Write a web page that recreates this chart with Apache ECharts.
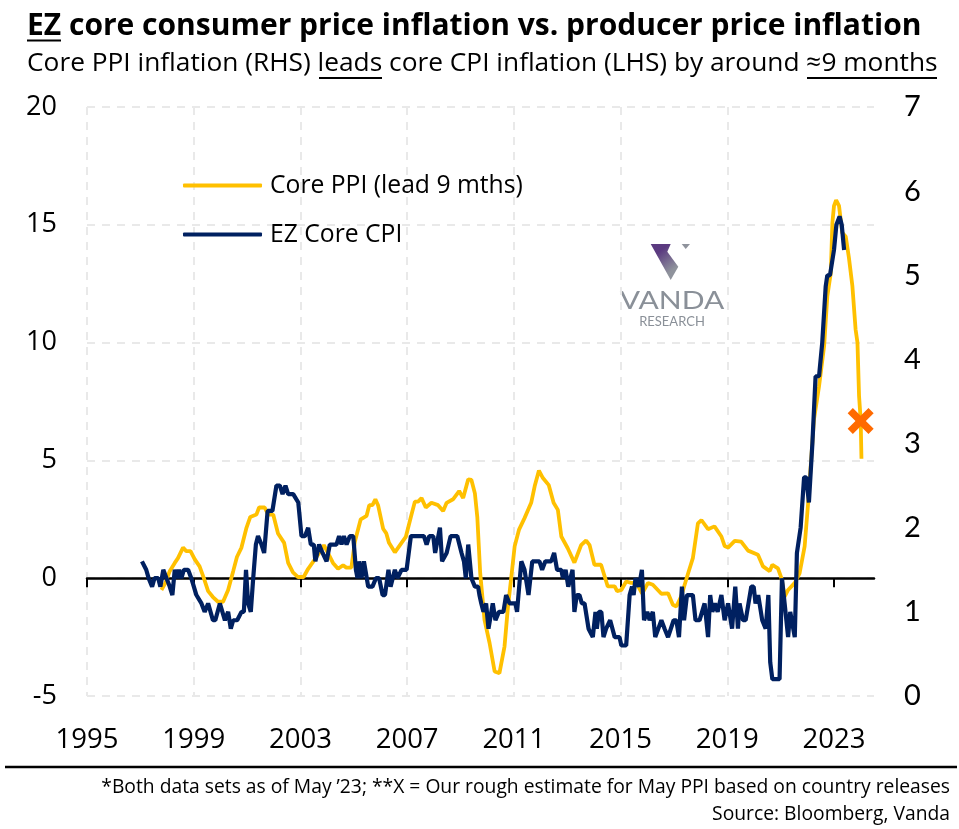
<!DOCTYPE html>
<html>
<head>
<meta charset="utf-8">
<style>html,body{margin:0;background:#fff}#main{width:959px;height:829px}</style>
<script src="https://cdn.jsdelivr.net/npm/echarts@6/dist/echarts.min.js"></script>
</head>
<body>
<div id="main"></div>
<script>
// x = decimal year
const xTicks = [1995, 1999, 2003, 2007, 2011, 2015, 2019, 2023]

const ppiYears = [1997.79,1997.85,1997.94,1998.1,1998.29,1998.41,1998.6,1998.72,1998.88,1999.04,1999.22,1999.38,1999.54,1999.72,1999.91,
  2000.1,2000.29,2000.48,2000.62,2000.79,2000.98,2001.12,2001.35,2001.45,2001.66,2001.79,2001.98,2002.16,2002.39,2002.54,2002.72,2002.91,
  2003.12,2003.29,2003.48,2003.66,2003.88,2004.04,2004.22,2004.41,2004.6,2004.72,2004.91,2005.04,2005.26,2005.48,2005.58,2005.7,2005.81,2005.91,
  2006.1,2006.22,2006.32,2006.54,2006.79,2006.95,2007.14,2007.29,2007.41,2007.54,2007.7,2007.91,2008.16,2008.35,2008.48,2008.72,2008.95,
  2009.1,2009.29,2009.41,2009.54,2009.63,2009.74,2009.9,2010.09,2010.28,2010.46,2010.65,2010.78,2010.9,2011.03,2011.19,2011.4,2011.65,2011.78,2011.94,
  2012.09,2012.31,2012.49,2012.65,2012.78,2013.02,2013.27,2013.52,2013.71,2013.84,2014.02,2014.27,2014.52,2014.78,2014.87,2015.03,2015.21,2015.4,2015.59,2015.81,
  2016.03,2016.21,2016.53,2016.78,2016.96,2017.09,2017.27,2017.53,2017.71,2017.9,2018.03,2018.28,2018.52,2018.78,2018.9,2019.03,2019.28,2019.52,2019.78,
  2020.15,2020.34,2020.59,2020.69,2020.9,2021.03,2021.15,2021.28,2021.53,2021.71,2021.9,2022.03,2022.25,2022.44,2022.63,2022.75,2022.88,2022.94,
  2023.0,2023.08,2023.19,2023.31,2023.44,2023.56,2023.69,2023.81,2023.88,2023.94,2024.0,2024.03]
const ppiValues = [-0.5,-0.5,-0.2,0.3,0.65,0.85,1.3,1.15,1.15,0.8,0.5,0,-0.55,-0.8,-1,
  -1,-0.5,0.3,0.9,1.3,2.15,2.6,2.7,3,3,2.7,2.7,1.9,1.5,0.65,0.25,0.05,
  0.05,0.4,0.7,1,1.4,1.05,0.65,0.4,0.55,0.45,0.45,1.55,2.5,2.65,3.1,3.1,3.35,3.1,
  2.1,1.9,1.5,1.1,1.5,1.75,2.6,3.25,3.25,3.4,3,3.2,3.1,2.85,3.2,3.35,3.7,
  3.4,4.2,4.17,3.6,2.6,0.2,-1.77,-2.75,-3.96,-4.03,-2.9,-1.2,0,1.35,2.05,2.55,3.2,3.9,4.57,
  4.25,3.95,3.2,2.9,1.77,1.27,0.66,1.4,1.6,1.4,0.57,0.57,-0.35,-0.35,-0.55,-0.5,-0.14,-0.2,-0.2,-0.65,
  -0.2,-0.28,-0.66,-0.64,-1.13,-1.2,-0.78,0.2,0.85,2.33,2.47,2.08,2.2,1.77,1.37,1.3,1.58,1.55,1.17,
  1,0.5,0.3,0.57,0.42,0,-0.78,-0.5,-0.2,0.2,1.35,3.18,6.74,8.15,9.85,11.97,12.96,15.08,
  15.8,16.05,15.8,14.66,14.5,13.6,12.4,10.56,10,7.73,6.74,5.07]

const cpiYears = [1997.06,1997.22,1997.31,1997.44,1997.53,1997.67,1997.75,1997.86,1997.98,1998.1,1998.2,1998.29,1998.38,1998.45,1998.54,1998.63,1998.79,1998.91,
  1999.1,1999.29,1999.41,1999.54,1999.72,1999.81,1999.98,2000.04,2000.17,2000.29,2000.39,2000.48,2000.63,2000.79,2000.88,2000.96,2001.04,2001.14,2001.23,2001.33,2001.41,2001.54,2001.64,2001.77,
  2001.95,2002.1,2002.23,2002.33,2002.44,2002.54,2002.73,2002.92,2003.04,2003.17,2003.29,2003.39,2003.5,2003.56,2003.7,2003.83,2003.98,2004.1,2004.35,2004.45,2004.54,2004.63,2004.73,2004.85,2004.98,
  2005.08,2005.14,2005.2,2005.29,2005.38,2005.54,2005.7,2005.83,2005.95,2006.08,2006.17,2006.3,2006.38,2006.54,2006.64,2006.79,2006.98,2007.14,2007.63,2007.73,2007.83,2007.98,2008.05,2008.23,2008.31,2008.48,2008.63,2008.88,2009.04,2009.13,2009.2,2009.29,2009.41,2009.54,2009.66,
  2009.71,2009.78,2009.86,2009.96,2010.05,2010.11,2010.21,2010.31,2010.44,2010.61,2010.71,2010.84,2011.06,2011.12,2011.28,2011.4,2011.46,2011.55,2011.62,2011.69,2011.96,
  2012.06,2012.18,2012.4,2012.51,2012.62,2012.78,2012.84,2012.94,2013.04,2013.11,2013.2,2013.27,2013.36,2013.46,2013.55,2013.65,2013.8,2013.96,2014.06,2014.11,2014.19,2014.28,2014.36,2014.46,2014.61,2014.78,2014.96,
  2015.03,2015.21,2015.34,2015.43,2015.49,2015.56,2015.69,2015.8,2015.88,2016.0,2016.09,2016.21,2016.3,2016.53,2016.65,2016.78,2016.99,2017.09,2017.19,2017.3,2017.38,2017.49,2017.71,2017.81,2017.96,
  2018.15,2018.28,2018.36,2018.44,2018.54,2018.64,2018.78,2018.9,2019.03,2019.18,2019.3,2019.4,2019.46,2019.59,2019.69,2019.9,2019.99,2020.06,2020.16,2020.31,2020.44,2020.54,2020.61,2020.69,2020.96,
  2021.05,2021.15,2021.28,2021.36,2021.53,2021.61,2021.75,2021.88,2021.96,2022.06,2022.19,2022.31,2022.44,2022.56,2022.69,2022.75,2022.85,2023.0,2023.09,2023.21,2023.29,2023.38]
const cpiValues = [1.6,1.5,1.4,1.3,1.4,1.4,1.3,1.5,1.4,1.3,1.2,1.5,1.4,1.5,1.4,1.5,1.5,1.4,
  1.2,1.1,1,1.1,0.9,0.9,1.1,1.1,0.9,1,0.8,0.9,0.9,1,1,1.5,1.1,1,1.4,1.8,1.9,1.8,1.7,2.2,
  2.2,2.5,2.5,2.4,2.5,2.4,2.4,2.3,1.9,1.9,2,1.8,1.8,1.6,1.8,1.7,1.6,1.8,1.8,1.9,1.8,1.9,1.8,1.9,1.9,
  1.5,1.4,1.6,1.4,1.6,1.3,1.3,1.4,1.4,1.2,1.2,1.5,1.3,1.5,1.4,1.5,1.5,1.9,1.9,1.8,1.9,1.9,1.7,2,1.6,1.7,1.9,1.9,1.7,1.6,1.4,1.8,1.4,1.3,1.3,
  1.2,1.1,1,1.1,0.8,0.8,1.1,0.9,1,1,1.2,1.1,1.1,1,1.6,1.5,1.5,1.2,1.2,1.6,1.6,
  1.5,1.6,1.6,1.7,1.5,1.5,1.4,1.5,1.3,1.3,1.5,1,1.2,1.2,1.1,1.1,0.8,0.7,1,0.8,1,1,0.7,0.8,0.9,0.7,0.7,
  0.6,0.6,1.2,1.3,1.2,1.4,1.3,1.5,0.9,1,0.9,1,0.7,0.9,0.8,0.7,0.9,0.9,0.7,1.3,0.9,1.2,1.2,0.9,0.9,
  1.1,0.7,1.2,1,1.1,1,1.2,0.9,1.1,0.8,1.3,0.8,1.1,0.9,0.9,1.3,1.3,1.1,1.2,0.9,0.8,1.2,0.4,0.2,0.2,
  1.4,1.1,0.7,1,0.7,1.7,2,2.6,2.6,2.3,3,3.8,3.8,4.2,4.87,5,5,5.3,5.6,5.7,5.6,5.3]

const estimateYear = [2024.0]
const estimateValue = [6.67]

const black = '#000'
const grey = '#8a9098'
const gridStyle = {color: '#e9e9e9', type: [8, 7], width: 2}

const line = (x1, x2, y, w) => ({type: 'line', shape: {x1, y1: y, x2, y2: y}, style: {stroke: black, lineWidth: w}, silent: true})
const text = (x, y, str, font, fill, align, sx) => ({
    type: 'text', x, y, scaleX: sx || 1, silent: true,
    style: {text: str, font, fill, textAlign: align || 'left', textVerticalAlign: 'middle'}
})

const chart = echarts.init(document.getElementById('main'))
chart.setOption({
    animation: false,
    backgroundColor: '#fff',
    grid: {left: 87, right: 85, top: 107, bottom: 133},
    legend: {
        left: 183, top: 173, padding: 0, orient: 'vertical', icon: 'roundRect', itemWidth: 79, itemHeight: 4, itemGap: 24,
        data: ['Core PPI (lead 9 mths)', 'EZ Core CPI'],
        textStyle: {fontFamily: 'Open Sans', fontSize: 24.7, color: black, padding: [0, 0, 0, 3]}
    },
    xAxis: [
        {
            type: 'value', min: 1995, max: 2024.5, position: 'bottom',
            axisLine: {show: false, onZero: false},
            axisTick: {show: false, customValues: xTicks},
            axisLabel: {customValues: xTicks, formatter: v => String(v), margin: 30, fontFamily: 'Open Sans', fontSize: 27.5, color: black},
            splitLine: {show: true, showMaxLine: false, lineStyle: gridStyle}
        },
        {
            type: 'value', min: 1995, max: 2024.5, position: 'top',
            axisLine: {show: true, onZero: true, onZeroAxisIndex: 0, lineStyle: {color: black, width: 2.5}},
            axisTick: {show: true, inside: true, length: 9, customValues: xTicks, lineStyle: {color: black, width: 2}},
            axisLabel: {show: false},
            splitLine: {show: false}
        }
    ],
    yAxis: [
        {
            type: 'value', min: -5, max: 20, interval: 5, position: 'left',
            axisLine: {show: false}, axisTick: {show: false},
            axisLabel: {margin: 30, padding: [3, 0, 0, 0], fontFamily: 'Open Sans', fontSize: 27, color: black},
            splitLine: {show: true, lineStyle: gridStyle}
        },
        {
            type: 'value', min: 0, max: 7, interval: 1, position: 'right',
            axisLine: {show: false}, axisTick: {show: false},
            axisLabel: {margin: 30, padding: [2, 0, 0, 0], fontFamily: 'Lato', fontSize: 29, color: black},
            splitLine: {show: false}
        }
    ],
    series: [
        {
            name: 'Core PPI (lead 9 mths)', type: 'line', xAxisIndex: 0, yAxisIndex: 0, symbol: 'none',
            lineStyle: {color: '#FFC000', width: 3.8}, itemStyle: {color: '#FFC000'},
            data: ppiYears.map((y, i) => [y, ppiValues[i]]), z: 3
        },
        {
            name: 'EZ Core CPI', type: 'line', xAxisIndex: 0, yAxisIndex: 1, symbol: 'none',
            lineStyle: {color: '#002060', width: 4.2}, itemStyle: {color: '#002060'},
            data: cpiYears.map((y, i) => [y, cpiValues[i]]), z: 4
        },
        {
            name: 'May PPI estimate', type: 'scatter', xAxisIndex: 0, yAxisIndex: 0,
            symbol: 'path://M0,4L4,0L10,6L16,0L20,4L14,10L20,16L16,20L10,14L4,20L0,16L6,10Z', symbolSize: 26,
            itemStyle: {color: '#FF6A00', opacity: 1},
            data: estimateYear.map((y, i) => [y, estimateValue[i]]), z: 5
        }
    ],
    graphic: [
        text(27, 26, 'EZ core consumer price inflation vs. producer price inflation', 'bold 30px "Open Sans"', black),
        line(27, 61, 40.5, 2),
        text(27, 64, 'Core PPI inflation (RHS) leads core CPI inflation (LHS) by around ≈9 months', '26.3px "Open Sans"', black),
        line(319, 382, 78, 1.8),
        line(807, 937, 78, 1.8),
        // logo
        {
            type: 'polygon', silent: true,
            shape: {points: [[650.7, 244], [670.7, 244], [667.3, 251.7], [678.3, 266.7], [670.7, 280]]},
            style: {fill: new echarts.graphic.LinearGradient(0, 0, 1, 1, [{offset: 0.25, color: '#5b3a80'}, {offset: 0.75, color: '#8f939c'}])}
        },
        {
            type: 'polygon', silent: true,
            shape: {points: [[681.7, 244], [690, 244], [685.7, 249]]},
            style: {fill: '#8f939c'}
        },
        text(672, 301, 'VANDA', '25px Lato', grey, 'center', 1.2),
        text(672, 322, 'RESEARCH', '13px Lato', grey, 'center'),
        // footer
        line(5, 957, 767, 2.5),
        text(950, 788, '*Both data sets as of May ’23; **X = Our rough estimate for May PPI based on country releases', '19.3px "Open Sans"', black, 'right'),
        text(950, 815, 'Source: Bloomberg, Vanda', '19.3px "Open Sans"', black, 'right')
    ]
})
</script>
</body>
</html>
